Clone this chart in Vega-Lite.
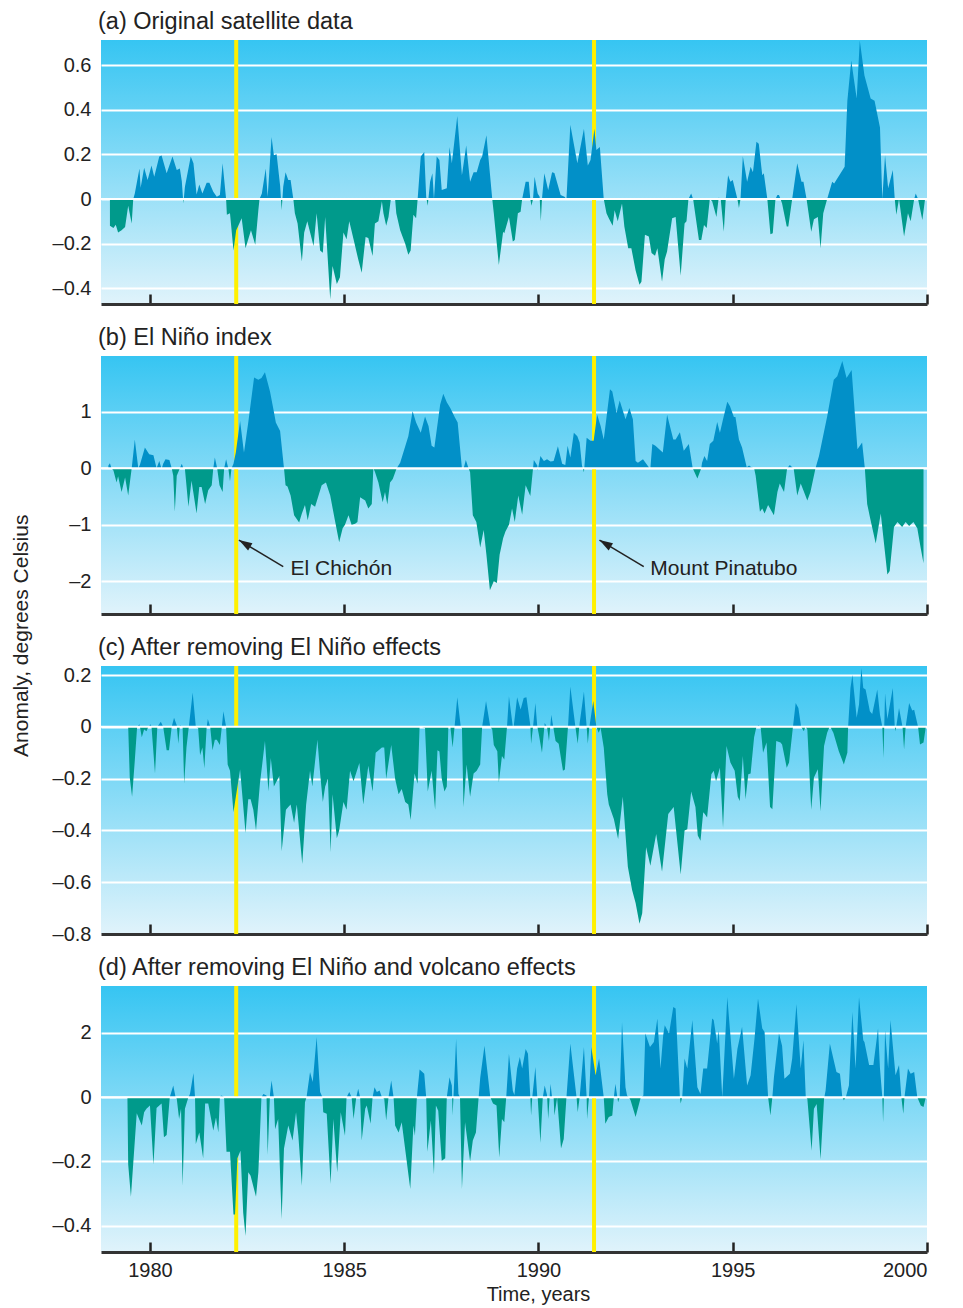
{
  "$schema": "https://vega.github.io/schema/vega-lite/v6.json",
  "padding": {"left": 11, "top": 9, "right": 18, "bottom": 4},
  "bounds": "flush",
  "config": {
    "font": "Liberation Sans",
    "view": {"stroke": null, "fill": {"gradient": "linear", "x1": 0, "y1": 0, "x2": 0, "y2": 1, "stops": [{"offset": 0, "color": "#36c5f2"}, {"offset": 1, "color": "#e0f3fb"}]}},
    "axis": {"labelFont": "Liberation Sans", "labelColor": "#222222", "titleColor": "#222222", "titleFont": "Liberation Sans", "titleFontWeight": "normal"},
    "axisY": {"title": null, "ticks": false, "domain": false, "labelPadding": 10, "labelFontSize": 20, "grid": true, "gridColor": "#ffffff", "gridWidth": 2, "gridOpacity": 1, "zindex": 0},
    "axisX": {"grid": false, "tickSize": -10, "tickWidth": 2.5, "tickColor": "#222222", "domainColor": "#333333", "domainWidth": 3, "zindex": 1},
    "title": {"fontWeight": "normal", "color": "#222222", "font": "Liberation Sans"}
  },
  "title": {"text": "Anomaly, degrees Celsius", "orient": "left", "anchor": "middle", "fontSize": 21, "offset": 20, "dx": 21},
  "spacing": 52,
  "vconcat": [
    {
      "width": 826, "height": 264,
      "title": {"text": "(a) Original satellite data", "anchor": "start", "frame": "group", "fontSize": 23.5, "offset": 5, "dx": -3},
      "layer": [
        {
          "data": {"values": [{"t": 1982.22}, {"t": 1991.43}]},
          "mark": {"type": "rule", "color": "#fff000", "strokeWidth": 4},
          "encoding": {"x": {"field": "t", "type": "quantitative", "scale": {"domain": [1978.74, 2000], "nice": false, "zero": false}, "axis": {"values": [1980, 1985, 1990, 1995, 2000], "labels": false, "title": null}}}
        },
        {
          "data": {"values": [
            {"t":1978.97,"v":-0.12},{"t":1979.06,"v":-0.13},{"t":1979.12,"v":-0.115},{"t":1979.18,"v":-0.15},{"t":1979.27,"v":-0.14},{"t":1979.36,"v":-0.125},{"t":1979.44,"v":-0.03},{"t":1979.53,"v":-0.11},{"t":1979.57,"v":0},{"t":1979.61,"v":0.025},{"t":1979.73,"v":0.137},{"t":1979.76,"v":0.05},{"t":1979.85,"v":0.14},{"t":1979.94,"v":0.085},{"t":1980.04,"v":0.15},{"t":1980.11,"v":0.1},{"t":1980.24,"v":0.19},{"t":1980.30,"v":0.195},{"t":1980.43,"v":0.115},{"t":1980.58,"v":0.19},{"t":1980.69,"v":0.13},{"t":1980.77,"v":0.137},{"t":1980.82,"v":0.08},{"t":1980.86,"v":-0.02},{"t":1980.90,"v":0.055},{"t":1981.05,"v":0.19},{"t":1981.12,"v":0.16},{"t":1981.20,"v":0.02},{"t":1981.27,"v":0.065},{"t":1981.35,"v":0.025},{"t":1981.46,"v":0.073},{"t":1981.53,"v":0.073},{"t":1981.63,"v":0.033},{"t":1981.72,"v":0.01},{"t":1981.80,"v":0.018},{"t":1981.87,"v":0.16},{"t":1981.96,"v":0},{"t":1981.98,"v":-0.07},{"t":1982.06,"v":-0.064},{"t":1982.15,"v":-0.23},{"t":1982.22,"v":-0.14},{"t":1982.30,"v":-0.11},{"t":1982.36,"v":-0.086},{"t":1982.46,"v":-0.22},{"t":1982.53,"v":-0.18},{"t":1982.60,"v":-0.14},{"t":1982.71,"v":-0.205},{"t":1982.79,"v":-0.05},{"t":1982.82,"v":0},{"t":1982.88,"v":0.025},{"t":1982.98,"v":0.137},{"t":1983.03,"v":0.01},{"t":1983.13,"v":0.278},{"t":1983.19,"v":0.196},{"t":1983.26,"v":0.2},{"t":1983.35,"v":0.06},{"t":1983.39,"v":-0.05},{"t":1983.43,"v":0.055},{"t":1983.49,"v":0.12},{"t":1983.56,"v":0.085},{"t":1983.62,"v":0.085},{"t":1983.69,"v":0},{"t":1983.73,"v":-0.064},{"t":1983.80,"v":-0.11},{"t":1983.91,"v":-0.28},{"t":1983.97,"v":-0.15},{"t":1984.05,"v":-0.1},{"t":1984.21,"v":-0.21},{"t":1984.29,"v":-0.064},{"t":1984.38,"v":-0.23},{"t":1984.45,"v":-0.24},{"t":1984.51,"v":-0.08},{"t":1984.64,"v":-0.45},{"t":1984.70,"v":-0.3},{"t":1984.81,"v":-0.38},{"t":1984.89,"v":-0.35},{"t":1984.98,"v":-0.15},{"t":1985.06,"v":-0.18},{"t":1985.13,"v":-0.1},{"t":1985.24,"v":-0.18},{"t":1985.36,"v":-0.27},{"t":1985.45,"v":-0.33},{"t":1985.55,"v":-0.17},{"t":1985.62,"v":-0.175},{"t":1985.73,"v":-0.255},{"t":1985.79,"v":-0.11},{"t":1985.88,"v":-0.1},{"t":1985.97,"v":-0.01},{"t":1986.01,"v":-0.064},{"t":1986.08,"v":-0.12},{"t":1986.14,"v":-0.08},{"t":1986.20,"v":0},{"t":1986.31,"v":0},{"t":1986.34,"v":-0.064},{"t":1986.44,"v":-0.14},{"t":1986.57,"v":-0.2},{"t":1986.65,"v":-0.25},{"t":1986.71,"v":-0.23},{"t":1986.78,"v":-0.07},{"t":1986.85,"v":-0.086},{"t":1986.89,"v":0},{"t":1986.97,"v":0.19},{"t":1987.06,"v":0.21},{"t":1987.11,"v":0.01},{"t":1987.15,"v":-0.03},{"t":1987.21,"v":0.077},{"t":1987.27,"v":0.115},{"t":1987.31,"v":0},{"t":1987.38,"v":0.19},{"t":1987.45,"v":0.175},{"t":1987.51,"v":0.04},{"t":1987.64,"v":0.048},{"t":1987.71,"v":0.233},{"t":1987.77,"v":0.16},{"t":1987.91,"v":0.372},{"t":1988.03,"v":0.107},{"t":1988.14,"v":0.24},{"t":1988.24,"v":0.077},{"t":1988.33,"v":0.12},{"t":1988.41,"v":0.12},{"t":1988.50,"v":0.175},{"t":1988.55,"v":0.19},{"t":1988.66,"v":0.285},{"t":1988.81,"v":0},{"t":1988.85,"v":-0.064},{"t":1988.98,"v":-0.295},{"t":1989.09,"v":-0.146},{"t":1989.12,"v":-0.153},{"t":1989.24,"v":-0.08},{"t":1989.34,"v":-0.19},{"t":1989.39,"v":-0.183},{"t":1989.47,"v":-0.064},{"t":1989.54,"v":-0.057},{"t":1989.58,"v":0},{"t":1989.67,"v":0.077},{"t":1989.75,"v":0.077},{"t":1989.79,"v":0},{"t":1989.82,"v":-0.03},{"t":1989.86,"v":0},{"t":1989.90,"v":0.1},{"t":1989.98,"v":0.025},{"t":1990.03,"v":0.01},{"t":1990.06,"v":-0.1},{"t":1990.09,"v":0},{"t":1990.15,"v":0.115},{"t":1990.25,"v":0.04},{"t":1990.35,"v":0.12},{"t":1990.41,"v":0.117},{"t":1990.57,"v":0.018},{"t":1990.67,"v":0.01},{"t":1990.72,"v":0},{"t":1990.82,"v":0.333},{"t":1991.00,"v":0.16},{"t":1991.17,"v":0.315},{"t":1991.27,"v":0.15},{"t":1991.34,"v":0.175},{"t":1991.44,"v":0.315},{"t":1991.49,"v":0.22},{"t":1991.58,"v":0.233},{"t":1991.68,"v":0},{"t":1991.75,"v":-0.064},{"t":1991.81,"v":-0.086},{"t":1991.91,"v":-0.12},{"t":1991.96,"v":-0.05},{"t":1992.04,"v":-0.1},{"t":1992.15,"v":-0.02},{"t":1992.21,"v":-0.123},{"t":1992.31,"v":-0.22},{"t":1992.39,"v":-0.22},{"t":1992.50,"v":-0.32},{"t":1992.60,"v":-0.384},{"t":1992.65,"v":-0.37},{"t":1992.74,"v":-0.16},{"t":1992.84,"v":-0.168},{"t":1992.91,"v":-0.242},{"t":1993.00,"v":-0.254},{"t":1993.06,"v":-0.22},{"t":1993.18,"v":-0.37},{"t":1993.25,"v":-0.27},{"t":1993.31,"v":-0.235},{"t":1993.44,"v":-0.086},{"t":1993.53,"v":-0.08},{"t":1993.66,"v":-0.343},{"t":1993.76,"v":-0.11},{"t":1993.81,"v":-0.1},{"t":1993.86,"v":0},{"t":1993.93,"v":0.025},{"t":1993.98,"v":0},{"t":1994.13,"v":-0.183},{"t":1994.19,"v":-0.183},{"t":1994.26,"v":-0.116},{"t":1994.33,"v":-0.13},{"t":1994.41,"v":0},{"t":1994.47,"v":-0.01},{"t":1994.58,"v":-0.08},{"t":1994.64,"v":0.007},{"t":1994.69,"v":0},{"t":1994.77,"v":-0.146},{"t":1994.82,"v":0},{"t":1994.88,"v":0.107},{"t":1994.94,"v":0.077},{"t":1995.00,"v":0.085},{"t":1995.12,"v":0},{"t":1995.16,"v":-0.04},{"t":1995.20,"v":0},{"t":1995.26,"v":0.192},{"t":1995.37,"v":0.077},{"t":1995.46,"v":0.144},{"t":1995.52,"v":0.12},{"t":1995.61,"v":0.256},{"t":1995.67,"v":0.248},{"t":1995.76,"v":0.107},{"t":1995.80,"v":0.115},{"t":1995.89,"v":0},{"t":1995.97,"v":-0.158},{"t":1996.03,"v":-0.153},{"t":1996.10,"v":0},{"t":1996.15,"v":0.018},{"t":1996.19,"v":0.018},{"t":1996.23,"v":0},{"t":1996.27,"v":-0.02},{"t":1996.39,"v":-0.123},{"t":1996.43,"v":-0.123},{"t":1996.53,"v":0},{"t":1996.66,"v":0.16},{"t":1996.77,"v":0.077},{"t":1996.82,"v":0.077},{"t":1996.90,"v":0},{"t":1997.02,"v":-0.146},{"t":1997.09,"v":-0.09},{"t":1997.19,"v":-0.08},{"t":1997.26,"v":-0.22},{"t":1997.33,"v":-0.064},{"t":1997.43,"v":0},{"t":1997.56,"v":0.077},{"t":1997.61,"v":0.07},{"t":1997.88,"v":0.144},{"t":1997.95,"v":0.44},{"t":1998.05,"v":0.62},{"t":1998.19,"v":0.45},{"t":1998.27,"v":0.71},{"t":1998.39,"v":0.553},{"t":1998.55,"v":0.45},{"t":1998.65,"v":0.44},{"t":1998.79,"v":0.32},{"t":1998.85,"v":0},{"t":1998.92,"v":0.196},{"t":1999.00,"v":0.048},{"t":1999.12,"v":0.13},{"t":1999.17,"v":0},{"t":1999.21,"v":-0.07},{"t":1999.28,"v":0},{"t":1999.41,"v":-0.168},{"t":1999.51,"v":-0.064},{"t":1999.58,"v":-0.1},{"t":1999.67,"v":0},{"t":1999.71,"v":0.025},{"t":1999.77,"v":0},{"t":1999.88,"v":-0.094},{"t":1999.95,"v":0}
          ]},
          "mark": {"type": "area", "interpolate": "linear", "color": {"gradient": "linear", "x1": 0, "y1": 0, "x2": 0, "y2": 1, "stops": [{"offset": 0, "color": "#0290c8"}, {"offset": 0.61207, "color": "#0290c8"}, {"offset": 0.61207, "color": "#009a8b"}, {"offset": 1, "color": "#009a8b"}]}},
          "encoding": {
            "x": {"field": "t", "type": "quantitative"},
            "y": {"field": "v", "type": "quantitative", "scale": {"domain": [-0.47, 0.712], "nice": false, "zero": false}, "axis": {"values": [0.6, 0.4, 0.2, 0, -0.2, -0.4], "labelExpr": "datum.value == 0 ? '0' : (datum.value < 0 ? '–' + format(-datum.value, '.1f') : format(datum.value, '.1f'))"}},
            "y2": {"datum": 0}
          }
        },
        {
          "data": {"values": [{}]},
          "mark": {"type": "rule", "color": "#ffffff", "strokeWidth": 2},
          "encoding": {"y": {"datum": 0}}
        }
      ]
    },
    {
      "width": 826, "height": 258,
      "title": {"text": "(b) El Niño index", "anchor": "start", "frame": "group", "fontSize": 23.5, "offset": 5, "dx": -3},
      "layer": [
        {
          "data": {"values": [{"t": 1982.22}, {"t": 1991.43}]},
          "mark": {"type": "rule", "color": "#fff000", "strokeWidth": 4},
          "encoding": {"x": {"field": "t", "type": "quantitative", "scale": {"domain": [1978.74, 2000], "nice": false, "zero": false}, "axis": {"values": [1980, 1985, 1990, 1995, 2000], "labels": false, "title": null}}}
        },
        {
          "data": {"values": [
            {"t":1978.93,"v":0.05},{"t":1978.97,"v":0.09},{"t":1979.01,"v":0},{"t":1979.06,"v":-0.04},{"t":1979.14,"v":-0.25},{"t":1979.18,"v":-0.14},{"t":1979.27,"v":-0.42},{"t":1979.36,"v":-0.16},{"t":1979.44,"v":-0.48},{"t":1979.53,"v":0},{"t":1979.61,"v":0.51},{"t":1979.70,"v":0},{"t":1979.74,"v":0.06},{"t":1979.87,"v":0.37},{"t":1979.98,"v":0.25},{"t":1980.09,"v":0.23},{"t":1980.17,"v":0},{"t":1980.24,"v":0.13},{"t":1980.30,"v":-0.01},{"t":1980.34,"v":0.08},{"t":1980.40,"v":0.16},{"t":1980.50,"v":0.15},{"t":1980.56,"v":0},{"t":1980.60,"v":-0.13},{"t":1980.64,"v":-0.77},{"t":1980.69,"v":-0.13},{"t":1980.77,"v":0},{"t":1980.82,"v":0.08},{"t":1980.86,"v":0},{"t":1980.90,"v":-0.01},{"t":1980.99,"v":-0.68},{"t":1981.07,"v":-0.22},{"t":1981.20,"v":-0.8},{"t":1981.27,"v":-0.33},{"t":1981.33,"v":-0.33},{"t":1981.42,"v":-0.63},{"t":1981.50,"v":-0.39},{"t":1981.59,"v":-0.3},{"t":1981.63,"v":0},{"t":1981.67,"v":0.19},{"t":1981.73,"v":0},{"t":1981.79,"v":-0.3},{"t":1981.87,"v":-0.42},{"t":1981.91,"v":0},{"t":1981.96,"v":0.16},{"t":1982.02,"v":-0.01},{"t":1982.06,"v":-0.23},{"t":1982.10,"v":0},{"t":1982.15,"v":0.08},{"t":1982.21,"v":0.28},{"t":1982.32,"v":0.84},{"t":1982.42,"v":0.28},{"t":1982.53,"v":0.81},{"t":1982.68,"v":1.61},{"t":1982.79,"v":1.57},{"t":1982.87,"v":1.6},{"t":1982.96,"v":1.7},{"t":1983.09,"v":1.36},{"t":1983.18,"v":1.04},{"t":1983.24,"v":0.81},{"t":1983.35,"v":0.66},{"t":1983.45,"v":0},{"t":1983.49,"v":-0.3},{"t":1983.54,"v":-0.32},{"t":1983.62,"v":-0.48},{"t":1983.71,"v":-0.83},{"t":1983.84,"v":-0.96},{"t":1983.91,"v":-0.8},{"t":1983.99,"v":-0.65},{"t":1984.06,"v":-0.92},{"t":1984.15,"v":-0.63},{"t":1984.25,"v":-0.68},{"t":1984.42,"v":-0.3},{"t":1984.53,"v":-0.25},{"t":1984.64,"v":-0.48},{"t":1984.76,"v":-0.92},{"t":1984.87,"v":-1.31},{"t":1984.96,"v":-1.06},{"t":1985.02,"v":-1.0},{"t":1985.11,"v":-0.83},{"t":1985.19,"v":-1.0},{"t":1985.28,"v":-0.98},{"t":1985.34,"v":-0.95},{"t":1985.41,"v":-0.51},{"t":1985.54,"v":-0.57},{"t":1985.62,"v":-0.71},{"t":1985.71,"v":-0.63},{"t":1985.75,"v":0},{"t":1985.79,"v":-0.06},{"t":1985.88,"v":-0.25},{"t":1985.99,"v":-0.6},{"t":1986.05,"v":-0.42},{"t":1986.11,"v":-0.64},{"t":1986.18,"v":-0.25},{"t":1986.25,"v":-0.19},{"t":1986.35,"v":0},{"t":1986.44,"v":0.1},{"t":1986.65,"v":0.57},{"t":1986.76,"v":1.01},{"t":1986.85,"v":0.81},{"t":1986.97,"v":0.63},{"t":1987.08,"v":0.92},{"t":1987.17,"v":0.75},{"t":1987.25,"v":0.4},{"t":1987.32,"v":0.37},{"t":1987.47,"v":1.13},{"t":1987.55,"v":1.32},{"t":1987.64,"v":1.17},{"t":1987.73,"v":1.07},{"t":1987.85,"v":0.9},{"t":1987.92,"v":0.81},{"t":1988.03,"v":0},{"t":1988.07,"v":-0.01},{"t":1988.13,"v":0.15},{"t":1988.20,"v":0},{"t":1988.24,"v":-0.07},{"t":1988.31,"v":-0.83},{"t":1988.40,"v":-0.95},{"t":1988.50,"v":-1.4},{"t":1988.59,"v":-1.09},{"t":1988.66,"v":-1.53},{"t":1988.75,"v":-2.16},{"t":1988.85,"v":-2.0},{"t":1988.93,"v":-2.03},{"t":1989.00,"v":-1.53},{"t":1989.09,"v":-1.24},{"t":1989.15,"v":-1.12},{"t":1989.24,"v":-1.0},{"t":1989.32,"v":-0.71},{"t":1989.39,"v":-0.95},{"t":1989.48,"v":-0.48},{"t":1989.58,"v":-0.82},{"t":1989.67,"v":-0.3},{"t":1989.79,"v":-0.49},{"t":1989.86,"v":0},{"t":1989.88,"v":0.15},{"t":1989.97,"v":0.05},{"t":1989.98,"v":-0.04},{"t":1990.05,"v":0.22},{"t":1990.14,"v":0.13},{"t":1990.22,"v":0.16},{"t":1990.31,"v":0.12},{"t":1990.39,"v":0.13},{"t":1990.50,"v":0.39},{"t":1990.61,"v":0.08},{"t":1990.69,"v":0.06},{"t":1990.75,"v":0.4},{"t":1990.82,"v":0.19},{"t":1990.91,"v":0.63},{"t":1991.00,"v":0.57},{"t":1991.06,"v":0.46},{"t":1991.12,"v":0.05},{"t":1991.17,"v":-0.07},{"t":1991.24,"v":0.54},{"t":1991.34,"v":0.49},{"t":1991.42,"v":0.49},{"t":1991.51,"v":0.95},{"t":1991.60,"v":0.75},{"t":1991.68,"v":0.51},{"t":1991.84,"v":1.4},{"t":1991.90,"v":1.36},{"t":1992.01,"v":0.98},{"t":1992.09,"v":1.2},{"t":1992.24,"v":0.87},{"t":1992.34,"v":1.07},{"t":1992.43,"v":0.87},{"t":1992.50,"v":0.13},{"t":1992.56,"v":0.1},{"t":1992.69,"v":0.16},{"t":1992.84,"v":0.02},{"t":1992.88,"v":0},{"t":1992.93,"v":0.43},{"t":1993.01,"v":0.4},{"t":1993.20,"v":0.28},{"t":1993.31,"v":0.95},{"t":1993.47,"v":0.51},{"t":1993.53,"v":0.51},{"t":1993.64,"v":0.64},{"t":1993.74,"v":0.31},{"t":1993.87,"v":0.43},{"t":1993.97,"v":0},{"t":1994.09,"v":-0.18},{"t":1994.19,"v":0},{"t":1994.21,"v":0.1},{"t":1994.27,"v":0.22},{"t":1994.34,"v":0.13},{"t":1994.41,"v":0.43},{"t":1994.50,"v":0.49},{"t":1994.60,"v":0.82},{"t":1994.67,"v":0.63},{"t":1994.75,"v":0.87},{"t":1994.86,"v":1.18},{"t":1994.93,"v":1.1},{"t":1995.03,"v":0.91},{"t":1995.07,"v":0.91},{"t":1995.16,"v":0.51},{"t":1995.24,"v":0.37},{"t":1995.36,"v":0.02},{"t":1995.42,"v":0.05},{"t":1995.48,"v":0.02},{"t":1995.55,"v":0},{"t":1995.59,"v":-0.13},{"t":1995.70,"v":-0.77},{"t":1995.76,"v":-0.71},{"t":1995.82,"v":-0.8},{"t":1995.91,"v":-0.65},{"t":1996.06,"v":-0.83},{"t":1996.15,"v":-0.42},{"t":1996.21,"v":-0.27},{"t":1996.32,"v":-0.42},{"t":1996.40,"v":0},{"t":1996.47,"v":0.06},{"t":1996.53,"v":0.02},{"t":1996.57,"v":-0.01},{"t":1996.66,"v":-0.48},{"t":1996.75,"v":-0.27},{"t":1996.92,"v":-0.57},{"t":1997.00,"v":-0.42},{"t":1997.13,"v":0},{"t":1997.22,"v":0.22},{"t":1997.43,"v":0.92},{"t":1997.60,"v":1.57},{"t":1997.69,"v":1.63},{"t":1997.82,"v":1.9},{"t":1997.93,"v":1.6},{"t":1998.06,"v":1.74},{"t":1998.21,"v":0.34},{"t":1998.33,"v":0.46},{"t":1998.40,"v":0},{"t":1998.46,"v":-0.63},{"t":1998.53,"v":-0.86},{"t":1998.68,"v":-1.33},{"t":1998.81,"v":-0.8},{"t":1998.98,"v":-1.88},{"t":1999.04,"v":-1.82},{"t":1999.15,"v":-1.04},{"t":1999.24,"v":-0.95},{"t":1999.36,"v":-1.04},{"t":1999.45,"v":-0.95},{"t":1999.54,"v":-1.02},{"t":1999.65,"v":-0.95},{"t":1999.75,"v":-1.06},{"t":1999.84,"v":-1.42},{"t":1999.91,"v":-1.68}
          ]},
          "mark": {"type": "area", "interpolate": "linear", "color": {"gradient": "linear", "x1": 0, "y1": 0, "x2": 0, "y2": 1, "stops": [{"offset": 0, "color": "#0290c8"}, {"offset": 0.46798, "color": "#0290c8"}, {"offset": 0.46798, "color": "#009a8b"}, {"offset": 1, "color": "#009a8b"}]}},
          "encoding": {
            "x": {"field": "t", "type": "quantitative"},
            "y": {"field": "v", "type": "quantitative", "scale": {"domain": [-2.58, 1.99], "nice": false, "zero": false}, "axis": {"values": [1, 0, -1, -2], "labelExpr": "datum.value < 0 ? '–' + format(-datum.value, 'd') : format(datum.value, 'd')"}},
            "y2": {"datum": 0}
          }
        },
        {
          "data": {"values": [{}]},
          "mark": {"type": "rule", "color": "#ffffff", "strokeWidth": 2},
          "encoding": {"y": {"datum": 0}}
        },
        {
          "data": {"values": [
            {"name": "El Chichón", "tipT": 1982.29, "tipV": -1.27, "tailT": 1983.43, "tailV": -1.74, "textT": 1983.62, "textV": -1.78},
            {"name": "Mount Pinatubo", "tipT": 1991.57, "tipV": -1.27, "tailT": 1992.71, "tailV": -1.74, "textT": 1992.88, "textV": -1.78}
          ]},
          "layer": [
            {"mark": {"type": "rule", "color": "#222222", "strokeWidth": 1.5},
             "encoding": {"x": {"field": "tailT", "type": "quantitative"}, "y": {"field": "tailV", "type": "quantitative"}, "x2": {"field": "tipT"}, "y2": {"field": "tipV"}}},
            {"mark": {"type": "point", "shape": "M0,0 L0.32,1 L-0.32,1 Z", "filled": true, "color": "#222222", "opacity": 1, "size": 700, "angle": 301},
             "encoding": {"x": {"field": "tipT", "type": "quantitative"}, "y": {"field": "tipV", "type": "quantitative"}}},
            {"mark": {"type": "text", "align": "left", "baseline": "middle", "fontSize": 21, "color": "#222222", "font": "Liberation Sans"},
             "encoding": {"x": {"field": "textT", "type": "quantitative"}, "y": {"field": "textV", "type": "quantitative"}, "text": {"field": "name"}}}
          ]
        }
      ]
    },
    {
      "width": 826, "height": 268,
      "title": {"text": "(c) After removing El Niño effects", "anchor": "start", "frame": "group", "fontSize": 23.5, "offset": 5, "dx": -3},
      "layer": [
        {
          "data": {"values": [{"t": 1982.22}, {"t": 1991.43}]},
          "mark": {"type": "rule", "color": "#fff000", "strokeWidth": 4},
          "encoding": {"x": {"field": "t", "type": "quantitative", "scale": {"domain": [1978.74, 2000], "nice": false, "zero": false}, "axis": {"values": [1980, 1985, 1990, 1995, 2000], "labels": false, "title": null}}}
        },
        {
          "data": {"values": [
            {"t":1979.44,"v":0},{"t":1979.48,"v":-0.196},{"t":1979.54,"v":-0.27},{"t":1979.61,"v":-0.13},{"t":1979.67,"v":0},{"t":1979.73,"v":0.01},{"t":1979.79,"v":-0.04},{"t":1979.85,"v":-0.01},{"t":1979.91,"v":-0.017},{"t":1979.96,"v":0},{"t":1980.02,"v":0.01},{"t":1980.04,"v":0},{"t":1980.13,"v":-0.18},{"t":1980.19,"v":0},{"t":1980.28,"v":0.02},{"t":1980.34,"v":0},{"t":1980.43,"v":-0.09},{"t":1980.49,"v":-0.09},{"t":1980.56,"v":0},{"t":1980.62,"v":0.035},{"t":1980.69,"v":0.006},{"t":1980.73,"v":-0.065},{"t":1980.77,"v":0.006},{"t":1980.84,"v":0},{"t":1980.88,"v":-0.22},{"t":1980.94,"v":-0.08},{"t":1981.00,"v":0},{"t":1981.10,"v":0.133},{"t":1981.18,"v":0},{"t":1981.24,"v":-0.004},{"t":1981.29,"v":-0.11},{"t":1981.35,"v":-0.08},{"t":1981.40,"v":-0.16},{"t":1981.46,"v":0},{"t":1981.49,"v":0.03},{"t":1981.55,"v":0},{"t":1981.61,"v":-0.09},{"t":1981.67,"v":-0.05},{"t":1981.72,"v":-0.05},{"t":1981.80,"v":-0.07},{"t":1981.85,"v":0},{"t":1981.89,"v":0.06},{"t":1981.96,"v":0},{"t":1982.00,"v":-0.145},{"t":1982.06,"v":-0.17},{"t":1982.15,"v":-0.33},{"t":1982.19,"v":-0.29},{"t":1982.32,"v":-0.165},{"t":1982.46,"v":-0.41},{"t":1982.53,"v":-0.28},{"t":1982.59,"v":-0.28},{"t":1982.66,"v":-0.32},{"t":1982.73,"v":-0.4},{"t":1982.83,"v":-0.22},{"t":1982.96,"v":-0.055},{"t":1983.05,"v":-0.25},{"t":1983.11,"v":-0.12},{"t":1983.19,"v":-0.23},{"t":1983.26,"v":-0.21},{"t":1983.33,"v":-0.19},{"t":1983.39,"v":-0.48},{"t":1983.50,"v":-0.32},{"t":1983.56,"v":-0.31},{"t":1983.62,"v":-0.3},{"t":1983.71,"v":-0.37},{"t":1983.78,"v":-0.3},{"t":1983.92,"v":-0.53},{"t":1984.02,"v":-0.3},{"t":1984.12,"v":-0.17},{"t":1984.18,"v":-0.23},{"t":1984.31,"v":-0.05},{"t":1984.38,"v":-0.18},{"t":1984.45,"v":-0.29},{"t":1984.51,"v":-0.23},{"t":1984.58,"v":-0.2},{"t":1984.65,"v":-0.485},{"t":1984.70,"v":-0.26},{"t":1984.81,"v":-0.43},{"t":1984.87,"v":-0.4},{"t":1984.98,"v":-0.29},{"t":1985.06,"v":-0.32},{"t":1985.15,"v":-0.17},{"t":1985.24,"v":-0.21},{"t":1985.39,"v":-0.14},{"t":1985.49,"v":-0.3},{"t":1985.62,"v":-0.15},{"t":1985.73,"v":-0.25},{"t":1985.81,"v":-0.1},{"t":1985.97,"v":-0.08},{"t":1986.03,"v":-0.08},{"t":1986.08,"v":-0.2},{"t":1986.21,"v":-0.07},{"t":1986.31,"v":-0.2},{"t":1986.40,"v":-0.26},{"t":1986.48,"v":-0.24},{"t":1986.57,"v":-0.29},{"t":1986.65,"v":-0.3},{"t":1986.71,"v":-0.36},{"t":1986.81,"v":-0.18},{"t":1986.89,"v":-0.22},{"t":1986.94,"v":0},{"t":1987.00,"v":-0.001},{"t":1987.08,"v":-0.004},{"t":1987.15,"v":-0.25},{"t":1987.25,"v":-0.17},{"t":1987.34,"v":-0.32},{"t":1987.40,"v":-0.09},{"t":1987.45,"v":-0.095},{"t":1987.51,"v":-0.2},{"t":1987.58,"v":-0.25},{"t":1987.64,"v":-0.23},{"t":1987.68,"v":0},{"t":1987.73,"v":0.003},{"t":1987.79,"v":-0.08},{"t":1987.84,"v":0},{"t":1987.91,"v":0.114},{"t":1988.00,"v":0},{"t":1988.03,"v":-0.004},{"t":1988.07,"v":-0.31},{"t":1988.15,"v":-0.145},{"t":1988.24,"v":-0.27},{"t":1988.33,"v":-0.18},{"t":1988.41,"v":-0.17},{"t":1988.50,"v":-0.145},{"t":1988.55,"v":0},{"t":1988.65,"v":0.1},{"t":1988.76,"v":0},{"t":1988.81,"v":-0.01},{"t":1988.85,"v":-0.07},{"t":1988.94,"v":-0.094},{"t":1988.98,"v":-0.215},{"t":1989.06,"v":-0.113},{"t":1989.12,"v":-0.126},{"t":1989.19,"v":0},{"t":1989.24,"v":0.118},{"t":1989.34,"v":0},{"t":1989.36,"v":-0.001},{"t":1989.45,"v":0.114},{"t":1989.54,"v":0.067},{"t":1989.62,"v":0.111},{"t":1989.69,"v":0.114},{"t":1989.79,"v":0.006},{"t":1989.81,"v":-0.065},{"t":1989.86,"v":0},{"t":1989.92,"v":0.092},{"t":1989.97,"v":0},{"t":1990.01,"v":-0.03},{"t":1990.09,"v":-0.1},{"t":1990.16,"v":0.015},{"t":1990.22,"v":0},{"t":1990.27,"v":-0.055},{"t":1990.33,"v":0.047},{"t":1990.38,"v":0},{"t":1990.44,"v":-0.055},{"t":1990.52,"v":-0.065},{"t":1990.63,"v":-0.17},{"t":1990.68,"v":-0.165},{"t":1990.76,"v":0},{"t":1990.82,"v":0.156},{"t":1990.95,"v":0},{"t":1991.01,"v":-0.065},{"t":1991.06,"v":0.015},{"t":1991.17,"v":0.137},{"t":1991.24,"v":0},{"t":1991.27,"v":-0.065},{"t":1991.31,"v":0},{"t":1991.41,"v":0.1},{"t":1991.49,"v":0},{"t":1991.55,"v":-0.023},{"t":1991.60,"v":-0.004},{"t":1991.68,"v":-0.08},{"t":1991.77,"v":-0.26},{"t":1991.81,"v":-0.3},{"t":1991.94,"v":-0.356},{"t":1992.05,"v":-0.433},{"t":1992.17,"v":-0.27},{"t":1992.30,"v":-0.54},{"t":1992.41,"v":-0.63},{"t":1992.50,"v":-0.68},{"t":1992.60,"v":-0.76},{"t":1992.67,"v":-0.72},{"t":1992.77,"v":-0.465},{"t":1992.88,"v":-0.536},{"t":1993.03,"v":-0.414},{"t":1993.18,"v":-0.56},{"t":1993.34,"v":-0.337},{"t":1993.48,"v":-0.31},{"t":1993.66,"v":-0.57},{"t":1993.76,"v":-0.4},{"t":1993.83,"v":-0.395},{"t":1993.93,"v":-0.25},{"t":1994.04,"v":-0.31},{"t":1994.10,"v":-0.42},{"t":1994.17,"v":-0.44},{"t":1994.24,"v":-0.33},{"t":1994.28,"v":-0.337},{"t":1994.34,"v":-0.35},{"t":1994.45,"v":-0.183},{"t":1994.51,"v":-0.17},{"t":1994.57,"v":-0.21},{"t":1994.67,"v":-0.158},{"t":1994.75,"v":-0.39},{"t":1994.84,"v":-0.074},{"t":1994.94,"v":-0.138},{"t":1995.05,"v":-0.17},{"t":1995.13,"v":-0.27},{"t":1995.18,"v":-0.286},{"t":1995.26,"v":-0.113},{"t":1995.33,"v":-0.28},{"t":1995.40,"v":-0.183},{"t":1995.46,"v":-0.18},{"t":1995.55,"v":-0.04},{"t":1995.61,"v":0},{"t":1995.67,"v":0.006},{"t":1995.72,"v":-0.004},{"t":1995.78,"v":-0.1},{"t":1995.87,"v":-0.06},{"t":1995.96,"v":-0.31},{"t":1996.02,"v":-0.318},{"t":1996.12,"v":-0.055},{"t":1996.23,"v":-0.06},{"t":1996.27,"v":-0.068},{"t":1996.39,"v":-0.158},{"t":1996.45,"v":-0.138},{"t":1996.55,"v":0},{"t":1996.62,"v":0.092},{"t":1996.69,"v":0.073},{"t":1996.76,"v":0},{"t":1996.83,"v":-0.017},{"t":1996.87,"v":0},{"t":1996.92,"v":-0.01},{"t":1997.02,"v":-0.32},{"t":1997.09,"v":-0.196},{"t":1997.19,"v":-0.164},{"t":1997.26,"v":-0.327},{"t":1997.35,"v":-0.074},{"t":1997.43,"v":-0.023},{"t":1997.50,"v":0.003},{"t":1997.59,"v":-0.023},{"t":1997.73,"v":-0.094},{"t":1997.86,"v":-0.145},{"t":1997.95,"v":-0.1},{"t":1997.97,"v":0},{"t":1998.03,"v":0.15},{"t":1998.08,"v":0.2},{"t":1998.19,"v":0.035},{"t":1998.25,"v":0.086},{"t":1998.31,"v":0.227},{"t":1998.36,"v":0.15},{"t":1998.42,"v":0.144},{"t":1998.53,"v":0.06},{"t":1998.59,"v":0.05},{"t":1998.72,"v":0.144},{"t":1998.79,"v":0.047},{"t":1998.85,"v":0},{"t":1998.88,"v":-0.12},{"t":1998.92,"v":0.13},{"t":1998.98,"v":0.03},{"t":1999.12,"v":0.15},{"t":1999.17,"v":0},{"t":1999.19,"v":-0.017},{"t":1999.28,"v":0.073},{"t":1999.37,"v":0},{"t":1999.41,"v":-0.087},{"t":1999.45,"v":0},{"t":1999.54,"v":0.092},{"t":1999.62,"v":0.063},{"t":1999.67,"v":0.066},{"t":1999.77,"v":0},{"t":1999.82,"v":-0.068},{"t":1999.91,"v":-0.06},{"t":1999.97,"v":0}
          ]},
          "mark": {"type": "area", "interpolate": "linear", "color": {"gradient": "linear", "x1": 0, "y1": 0, "x2": 0, "y2": 1, "stops": [{"offset": 0, "color": "#0290c8"}, {"offset": 0.22999, "color": "#0290c8"}, {"offset": 0.22999, "color": "#009a8b"}, {"offset": 1, "color": "#009a8b"}]}},
          "encoding": {
            "x": {"field": "t", "type": "quantitative"},
            "y": {"field": "v", "type": "quantitative", "scale": {"domain": [-0.8, 0.235], "nice": false, "zero": false}, "axis": {"values": [0.2, 0, -0.2, -0.4, -0.6, -0.8], "labelExpr": "datum.value == 0 ? '0' : (datum.value < 0 ? '–' + format(-datum.value, '.1f') : format(datum.value, '.1f'))"}},
            "y2": {"datum": 0}
          }
        },
        {
          "data": {"values": [{}]},
          "mark": {"type": "rule", "color": "#ffffff", "strokeWidth": 2},
          "encoding": {"y": {"datum": 0}}
        }
      ]
    },
    {
      "width": 826, "height": 266,
      "title": {"text": "(d) After removing El Niño and volcano effects", "anchor": "start", "frame": "group", "fontSize": 23.5, "offset": 5, "dx": -3},
      "layer": [
        {
          "data": {"values": [{"t": 1982.22}, {"t": 1991.43}]},
          "mark": {"type": "rule", "color": "#fff000", "strokeWidth": 4},
          "encoding": {"x": {"field": "t", "type": "quantitative", "scale": {"domain": [1978.74, 2000], "nice": false, "zero": false}, "axis": {"values": [1980, 1985, 1990, 1995, 2000], "format": "d", "labelFontSize": 20, "labelPadding": 18, "title": "Time, years", "titleFontSize": 20, "titleX": 437, "titlePadding": 4}}}
        },
        {
          "data": {"values": [
            {"t":1979.42,"v":0},{"t":1979.44,"v":-0.21},{"t":1979.51,"v":-0.31},{"t":1979.66,"v":-0.05},{"t":1979.72,"v":-0.068},{"t":1979.79,"v":-0.088},{"t":1979.85,"v":-0.047},{"t":1979.91,"v":-0.036},{"t":1980.00,"v":-0.026},{"t":1980.09,"v":-0.21},{"t":1980.17,"v":-0.034},{"t":1980.24,"v":-0.026},{"t":1980.30,"v":-0.02},{"t":1980.36,"v":-0.125},{"t":1980.43,"v":-0.118},{"t":1980.51,"v":0},{"t":1980.60,"v":0.036},{"t":1980.66,"v":0},{"t":1980.69,"v":-0.005},{"t":1980.75,"v":-0.068},{"t":1980.80,"v":-0.036},{"t":1980.84,"v":-0.276},{"t":1980.90,"v":-0.036},{"t":1980.99,"v":0},{"t":1981.03,"v":0.01},{"t":1981.12,"v":0.075},{"t":1981.16,"v":0},{"t":1981.18,"v":-0.146},{"t":1981.27,"v":-0.11},{"t":1981.37,"v":-0.19},{"t":1981.42,"v":-0.02},{"t":1981.50,"v":-0.02},{"t":1981.63,"v":-0.104},{"t":1981.70,"v":-0.063},{"t":1981.76,"v":-0.11},{"t":1981.80,"v":0},{"t":1981.83,"v":0.005},{"t":1981.89,"v":0.003},{"t":1981.91,"v":-0.005},{"t":1981.97,"v":-0.17},{"t":1982.06,"v":-0.17},{"t":1982.15,"v":-0.365},{"t":1982.19,"v":-0.365},{"t":1982.25,"v":-0.19},{"t":1982.33,"v":-0.167},{"t":1982.40,"v":-0.36},{"t":1982.46,"v":-0.432},{"t":1982.53,"v":-0.234},{"t":1982.59,"v":-0.245},{"t":1982.73,"v":-0.31},{"t":1982.79,"v":-0.234},{"t":1982.87,"v":0},{"t":1982.92,"v":0.01},{"t":1983.00,"v":0.005},{"t":1983.03,"v":-0.18},{"t":1983.09,"v":0.01},{"t":1983.13,"v":0.052},{"t":1983.19,"v":0},{"t":1983.22,"v":-0.1},{"t":1983.30,"v":-0.068},{"t":1983.39,"v":-0.38},{"t":1983.45,"v":-0.16},{"t":1983.56,"v":-0.088},{"t":1983.67,"v":-0.135},{"t":1983.76,"v":-0.047},{"t":1983.82,"v":-0.12},{"t":1983.91,"v":-0.276},{"t":1983.99,"v":-0.016},{"t":1984.03,"v":0},{"t":1984.12,"v":0.078},{"t":1984.19,"v":0.047},{"t":1984.29,"v":0.1875},{"t":1984.38,"v":0.016},{"t":1984.44,"v":0},{"t":1984.46,"v":-0.047},{"t":1984.55,"v":-0.052},{"t":1984.65,"v":-0.27},{"t":1984.72,"v":-0.068},{"t":1984.82,"v":-0.234},{"t":1984.91,"v":-0.047},{"t":1985.02,"v":-0.12},{"t":1985.06,"v":0},{"t":1985.13,"v":0.016},{"t":1985.19,"v":0},{"t":1985.24,"v":-0.068},{"t":1985.31,"v":0},{"t":1985.36,"v":0.026},{"t":1985.41,"v":0},{"t":1985.45,"v":-0.135},{"t":1985.54,"v":-0.036},{"t":1985.58,"v":-0.026},{"t":1985.68,"v":-0.083},{"t":1985.73,"v":0},{"t":1985.78,"v":0.031},{"t":1985.84,"v":0.016},{"t":1985.91,"v":0.021},{"t":1985.97,"v":0},{"t":1986.03,"v":-0.005},{"t":1986.08,"v":-0.073},{"t":1986.14,"v":0},{"t":1986.21,"v":0.052},{"t":1986.27,"v":0},{"t":1986.31,"v":-0.088},{"t":1986.40,"v":-0.11},{"t":1986.48,"v":-0.078},{"t":1986.70,"v":-0.286},{"t":1986.78,"v":-0.088},{"t":1986.82,"v":-0.12},{"t":1986.87,"v":0},{"t":1986.94,"v":0.086},{"t":1987.06,"v":0.073},{"t":1987.11,"v":0},{"t":1987.14,"v":-0.17},{"t":1987.23,"v":-0.073},{"t":1987.31,"v":-0.24},{"t":1987.36,"v":-0.026},{"t":1987.42,"v":-0.042},{"t":1987.51,"v":-0.198},{"t":1987.60,"v":-0.19},{"t":1987.64,"v":0},{"t":1987.71,"v":0.062},{"t":1987.77,"v":0.036},{"t":1987.79,"v":-0.057},{"t":1987.88,"v":0.182},{"t":1987.94,"v":0.01},{"t":1987.98,"v":0},{"t":1988.03,"v":-0.286},{"t":1988.11,"v":-0.078},{"t":1988.24,"v":-0.2},{"t":1988.31,"v":-0.135},{"t":1988.39,"v":-0.11},{"t":1988.46,"v":0},{"t":1988.50,"v":0.06},{"t":1988.61,"v":0.16},{"t":1988.76,"v":0},{"t":1988.83,"v":-0.02},{"t":1988.92,"v":-0.026},{"t":1988.99,"v":-0.188},{"t":1989.06,"v":-0.068},{"t":1989.12,"v":-0.078},{"t":1989.17,"v":0},{"t":1989.24,"v":0.135},{"t":1989.34,"v":0.02},{"t":1989.38,"v":0.007},{"t":1989.45,"v":0.089},{"t":1989.52,"v":0.125},{"t":1989.58,"v":0.089},{"t":1989.67,"v":0.15},{"t":1989.73,"v":0.135},{"t":1989.79,"v":0},{"t":1989.81,"v":-0.057},{"t":1989.84,"v":0},{"t":1989.92,"v":0.094},{"t":1989.97,"v":0},{"t":1989.98,"v":-0.002},{"t":1990.05,"v":-0.143},{"t":1990.11,"v":-0.002},{"t":1990.16,"v":0.036},{"t":1990.22,"v":0.007},{"t":1990.25,"v":-0.068},{"t":1990.31,"v":0.042},{"t":1990.35,"v":0},{"t":1990.39,"v":-0.002},{"t":1990.41,"v":-0.057},{"t":1990.48,"v":-0.002},{"t":1990.58,"v":-0.16},{"t":1990.65,"v":-0.13},{"t":1990.72,"v":0},{"t":1990.82,"v":0.167},{"t":1990.98,"v":0},{"t":1991.01,"v":-0.047},{"t":1991.06,"v":0},{"t":1991.17,"v":0.156},{"t":1991.24,"v":0},{"t":1991.25,"v":-0.068},{"t":1991.30,"v":0},{"t":1991.36,"v":0.156},{"t":1991.47,"v":0.068},{"t":1991.56,"v":0.12},{"t":1991.68,"v":0},{"t":1991.72,"v":-0.083},{"t":1991.81,"v":-0.062},{"t":1991.90,"v":-0.057},{"t":1991.94,"v":0},{"t":1991.98,"v":0.042},{"t":1992.03,"v":0},{"t":1992.05,"v":-0.016},{"t":1992.09,"v":0},{"t":1992.15,"v":0.234},{"t":1992.24,"v":0.031},{"t":1992.28,"v":0.005},{"t":1992.33,"v":0},{"t":1992.37,"v":-0.01},{"t":1992.50,"v":-0.062},{"t":1992.63,"v":-0.002},{"t":1992.70,"v":0.005},{"t":1992.75,"v":0.198},{"t":1992.87,"v":0.156},{"t":1992.97,"v":0.172},{"t":1993.06,"v":0.245},{"t":1993.14,"v":0.089},{"t":1993.21,"v":0.193},{"t":1993.25,"v":0.224},{"t":1993.36,"v":0.198},{"t":1993.47,"v":0.281},{"t":1993.53,"v":0.276},{"t":1993.64,"v":0},{"t":1993.66,"v":-0.02},{"t":1993.70,"v":0},{"t":1993.76,"v":0.12},{"t":1993.83,"v":0.089},{"t":1993.96,"v":0.24},{"t":1994.09,"v":0.031},{"t":1994.17,"v":0.01},{"t":1994.24,"v":0.089},{"t":1994.34,"v":0.089},{"t":1994.47,"v":0.245},{"t":1994.51,"v":0.24},{"t":1994.60,"v":0.167},{"t":1994.64,"v":0.208},{"t":1994.73,"v":0},{"t":1994.86,"v":0.312},{"t":1994.94,"v":0.193},{"t":1995.03,"v":0.057},{"t":1995.12,"v":0.15},{"t":1995.24,"v":0.219},{"t":1995.37,"v":0.036},{"t":1995.46,"v":0.068},{"t":1995.56,"v":0.182},{"t":1995.65,"v":0.307},{"t":1995.76,"v":0.214},{"t":1995.82,"v":0.203},{"t":1995.91,"v":0},{"t":1995.97,"v":-0.057},{"t":1996.02,"v":0},{"t":1996.06,"v":0.062},{"t":1996.19,"v":0.198},{"t":1996.27,"v":0.16},{"t":1996.33,"v":0.057},{"t":1996.47,"v":0.073},{"t":1996.53,"v":0.12},{"t":1996.64,"v":0.29},{"t":1996.75,"v":0.089},{"t":1996.82,"v":0.177},{"t":1996.88,"v":0},{"t":1996.92,"v":-0.005},{"t":1997.03,"v":-0.167},{"t":1997.09,"v":-0.036},{"t":1997.16,"v":-0.021},{"t":1997.26,"v":-0.193},{"t":1997.35,"v":-0.005},{"t":1997.39,"v":0.021},{"t":1997.50,"v":0.167},{"t":1997.67,"v":0.078},{"t":1997.76,"v":0.073},{"t":1997.82,"v":0},{"t":1997.86,"v":-0.01},{"t":1997.91,"v":0},{"t":1997.99,"v":0.036},{"t":1998.08,"v":0.266},{"t":1998.16,"v":0.089},{"t":1998.25,"v":0.312},{"t":1998.36,"v":0.177},{"t":1998.39,"v":0.172},{"t":1998.51,"v":0.1},{"t":1998.62,"v":0.1},{"t":1998.74,"v":0.214},{"t":1998.79,"v":0.089},{"t":1998.85,"v":0},{"t":1998.87,"v":-0.078},{"t":1998.89,"v":0},{"t":1998.92,"v":0.208},{"t":1999.00,"v":0.089},{"t":1999.06,"v":0.24},{"t":1999.19,"v":0.068},{"t":1999.28,"v":0.1},{"t":1999.34,"v":0},{"t":1999.39,"v":-0.052},{"t":1999.42,"v":0},{"t":1999.51,"v":0.089},{"t":1999.58,"v":0.073},{"t":1999.67,"v":0.078},{"t":1999.75,"v":0},{"t":1999.84,"v":-0.026},{"t":1999.91,"v":-0.031},{"t":1999.97,"v":0}
          ]},
          "mark": {"type": "area", "interpolate": "linear", "color": {"gradient": "linear", "x1": 0, "y1": 0, "x2": 0, "y2": 1, "stops": [{"offset": 0, "color": "#0290c8"}, {"offset": 0.41935, "color": "#0290c8"}, {"offset": 0.41935, "color": "#009a8b"}, {"offset": 1, "color": "#009a8b"}]}},
          "encoding": {
            "x": {"field": "t", "type": "quantitative"},
            "y": {"field": "v", "type": "quantitative", "scale": {"domain": [-0.482, 0.346], "nice": false, "zero": false}, "axis": {"values": [0.2, 0, -0.2, -0.4], "labelExpr": "datum.value > 0.1 ? '2' : (datum.value == 0 ? '0' : '–' + format(-datum.value, '.1f'))"}},
            "y2": {"datum": 0}
          }
        },
        {
          "data": {"values": [{}]},
          "mark": {"type": "rule", "color": "#ffffff", "strokeWidth": 2},
          "encoding": {"y": {"datum": 0}}
        }
      ]
    }
  ]
}
